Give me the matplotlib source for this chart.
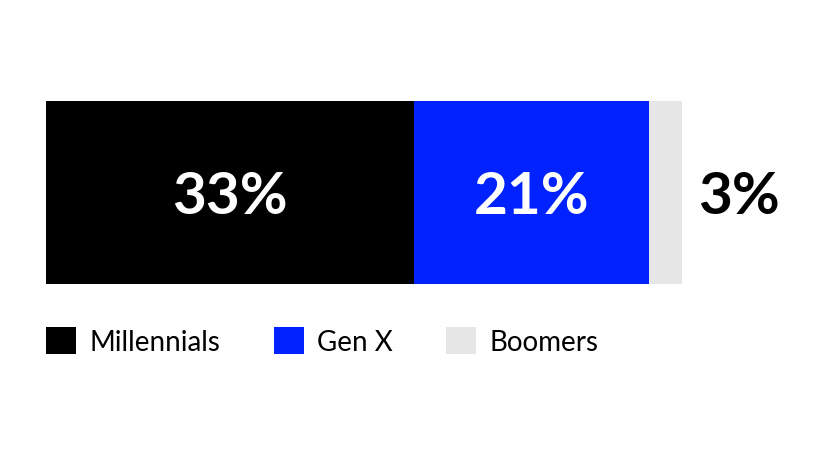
import matplotlib
matplotlib.use("Agg")
import matplotlib.pyplot as plt
from matplotlib.patches import Patch

plt.rcParams['font.family'] = ['Lato', 'DejaVu Sans']

groups = ["Millennials", "Gen X", "Boomers"]
values = [33, 21, 3]
colors = ["#000000", "#0022FF", "#E6E6E6"]
labels = [f"{v}%" for v in values]

W, H = 825, 464
fig = plt.figure(figsize=(W / 100, H / 100), dpi=100)
left_px = 46
bar_px = 636
ax = fig.add_axes([left_px / W, 0, 1 - left_px / W, 1])
total = sum(values)
ax.set_xlim(0, total * (W - left_px) / bar_px)
ax.set_ylim(0, H)
ax.axis("off")

# one stacked bar, labels inside the wide segments, outside the narrow one
yc = H - 193.5
start = 0
for g, v, c, lab in zip(groups, values, colors, labels):
    ax.barh(yc, v, left=start, height=183, color=c, label=g)
    if v > 5:
        ax.text(start + v / 2, yc - 4, lab, ha="center", va="center",
                color="white", fontsize=42, fontweight="bold")
    else:
        ax.text(start + v + 1.4, yc - 4, lab, ha="left", va="center",
                color="black", fontsize=42, fontweight="bold")
    start += v

handles = [Patch(facecolor=c, edgecolor="none") for c in colors]
fig.legend(handles, groups, loc="center left", bbox_to_anchor=(46 / W, 1 - 342 / H),
           ncol=3, frameon=False, fontsize=20, handlelength=1.08, handleheight=1.08,
           handletextpad=0.5, columnspacing=1.9, borderpad=0, borderaxespad=0)

fig.savefig("out.png", dpi=100)
